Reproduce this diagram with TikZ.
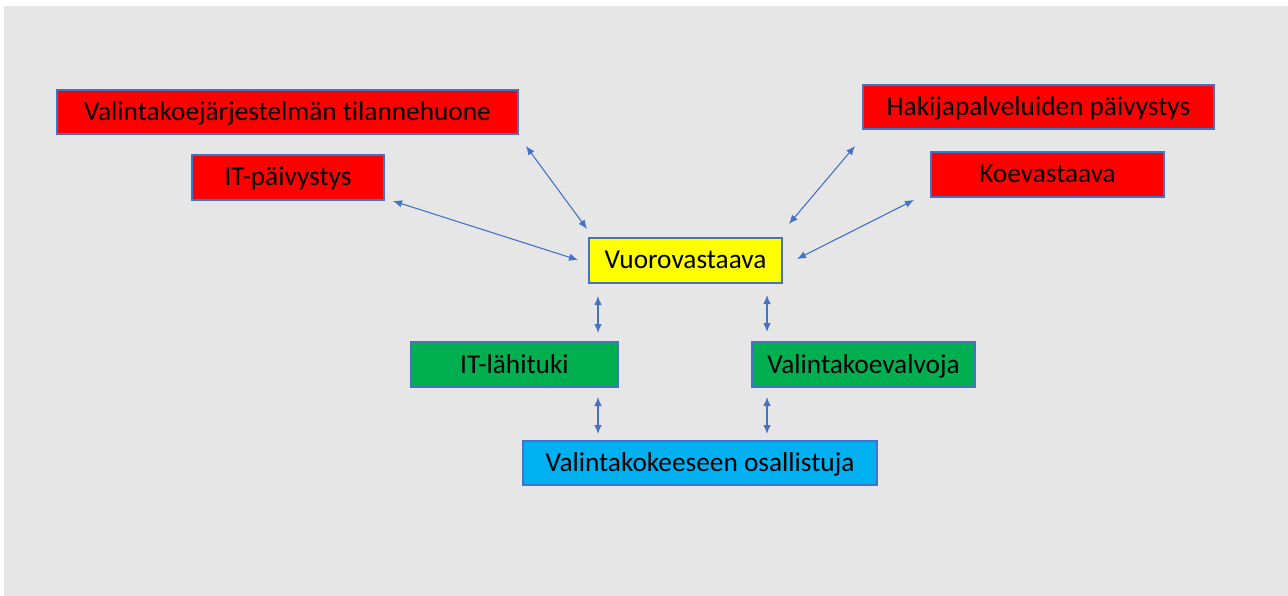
\documentclass[tikz,border=0pt]{standalone}
\usepackage{fontspec}
\setmainfont[Ligatures=NoCommon]{Carlito}
\usetikzlibrary{arrows.meta}
\definecolor{bg}{RGB}{230,230,230}
\definecolor{edge}{RGB}{68,114,196}
\definecolor{redbox}{RGB}{255,0,0}
\definecolor{yellowbox}{RGB}{255,255,0}
\definecolor{greenbox}{RGB}{0,176,80}
\definecolor{cyanbox}{RGB}{0,176,240}
\begin{document}
\begin{tikzpicture}[x=1pt,y=-1pt,
  box/.style={draw=edge, line width=1.2pt, rectangle, inner sep=0pt, text=black,
    font=\fontsize{27.3}{31}\selectfont, text height=23pt, text depth=6pt},
  link/.style={draw=edge, line width=1.1pt, {Latex[length=9pt,width=7.5pt]}-{Latex[length=9pt,width=7.5pt]}}]
\useasboundingbox (0,0) rectangle (1288,596);
\fill[white] (0,0) rectangle (1288,596);
\fill[bg] (4,6) rectangle (1288,596);

\node[box, fill=redbox, minimum width=461pt, minimum height=44pt] (tila) at (287.5,112) {Valintakoejärjestelmän tilannehuone};
\node[box, fill=redbox, minimum width=192pt, minimum height=45pt] (itp) at (288,177.5) {IT-päivystys};
\node[box, fill=redbox, minimum width=351pt, minimum height=44pt] (hak) at (1038.5,107) {Hakijapalveluiden päivystys};
\node[box, fill=redbox, minimum width=233pt, minimum height=45pt] (koe) at (1047.5,174.5) {Koevastaava};
\node[box, fill=yellowbox, minimum width=193pt, minimum height=45pt] (vuoro) at (685.5,260.5) {Vuorovastaava};
\node[box, fill=greenbox, minimum width=207pt, minimum height=45pt] (itl) at (514.5,364.5) {IT-lähituki};
\node[box, fill=greenbox, minimum width=223pt, minimum height=45pt] (valv) at (863.5,364.5) {Valintakoevalvoja};
\node[box, fill=cyanbox, minimum width=354pt, minimum height=44pt] (osal) at (700,463) {Valintakokeeseen osallistuja};

\coordinate (a1) at (526,146); \coordinate (a2) at (587,229);
\coordinate (b1) at (393,201); \coordinate (b2) at (578,260);
\coordinate (c1) at (855,146); \coordinate (c2) at (789,224);
\coordinate (d1) at (914,200); \coordinate (d2) at (797,259);
\coordinate (e1) at (598,296); \coordinate (e2) at (598,333);
\coordinate (f1) at (767,295); \coordinate (f2) at (767,332);
\coordinate (g1) at (598,397); \coordinate (g2) at (598,434);
\coordinate (h1) at (767,397); \coordinate (h2) at (767,434);

\draw[link] (a1) -- (a2);
\draw[link] (b1) -- (b2);
\draw[link] (c1) -- (c2);
\draw[link] (d1) -- (d2);
\draw[link] (e1) -- (e2);
\draw[link] (f1) -- (f2);
\draw[link] (g1) -- (g2);
\draw[link] (h1) -- (h2);
\end{tikzpicture}
\end{document}
